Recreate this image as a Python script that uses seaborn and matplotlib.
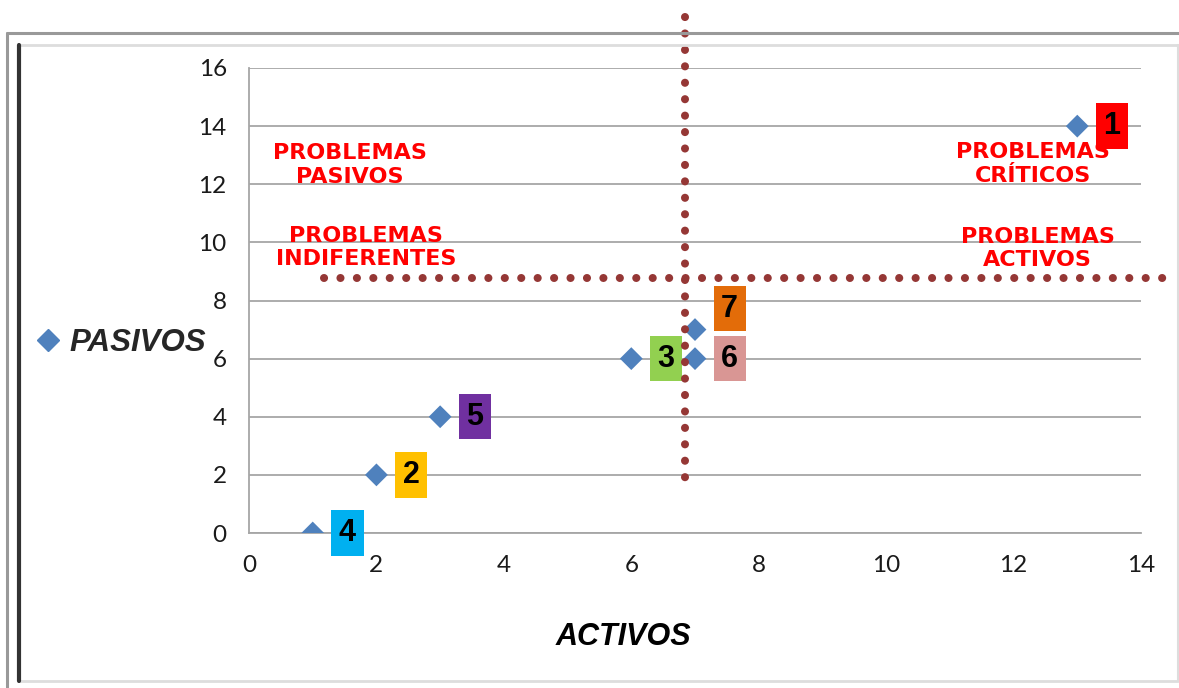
import numpy as np
import pandas as pd
import matplotlib
matplotlib.use("Agg")
import matplotlib.pyplot as plt
import seaborn as sns
from matplotlib.lines import Line2D

# ---- data ----
activos = [13, 2, 6, 1, 3, 7, 7]
pasivos = [14, 2, 6, 0, 4, 6, 7]
ids = ["1", "2", "3", "4", "5", "6", "7"]
box_colors = ["#FF0000", "#FFC000", "#92D050", "#00B0F0", "#7030A0", "#D99694", "#E36C09"]
x_ticks = [0, 2, 4, 6, 8, 10, 12, 14]
y_ticks = [0, 2, 4, 6, 8, 10, 12, 14, 16]
div_x = 6.84   # vertical divider (ACTIVOS)
div_y = 8.76   # horizontal divider (PASIVOS)
quadrant_texts = ["PROBLEMAS\nPASIVOS", "PROBLEMAS\nINDIFERENTES",
                  "PROBLEMAS\nCRÍTICOS", "PROBLEMAS\nACTIVOS"]
quadrant_x = [1.585, 1.84, 12.30, 12.38]
quadrant_y = [12.66, 9.81, 12.70, 9.79]

df = pd.DataFrame({"ACTIVOS": activos, "PASIVOS": pasivos, "id": ids})

sns.set_style("white")
plt.rcParams["font.family"] = ["Lato", "DejaVu Sans"]

W, H = 1179, 688
fig = plt.figure(figsize=(W / 100, H / 100), dpi=100)
ax = fig.add_axes([249 / W, 1 - 533 / H, (1141 - 249) / W, (533 - 68) / H])

sns.scatterplot(data=df, x="ACTIVOS", y="PASIVOS", marker="D", s=135,
                color="#4F81BD", edgecolor="none", ax=ax, zorder=4,
                label="PASIVOS", legend=False)

ax.set_xlim(0, 14)
ax.set_ylim(0, 16)
ax.set_xticks(x_ticks)
ax.set_yticks(y_ticks)
ax.yaxis.grid(True, color="#A6A6A6", lw=1.3)
ax.xaxis.grid(False)
for s in ["top", "right"]:
    ax.spines[s].set_visible(False)
for s in ["left", "bottom"]:
    ax.spines[s].set_color("#A6A6A6")
    ax.spines[s].set_linewidth(1.3)
ax.tick_params(axis="both", which="both", direction="out", length=6, width=1.3,
               color="#A6A6A6", labelsize=17.5, labelcolor="#1a1a1a")
ax.tick_params(axis="y", pad=10)
ax.tick_params(axis="x", pad=10)
ax.set_ylabel("")
ax.set_xlabel("ACTIVOS", fontsize=22, fontweight="bold", fontstyle="italic",
              family=["Liberation Sans"], color="black")
ax.xaxis.set_label_coords((623 - 249) / (1141 - 249), -(637 - 533) / (533 - 68))
ax.xaxis.label.set_va("center")

# quadrant labels
for t, qx, qy in zip(quadrant_texts, quadrant_x, quadrant_y):
    ax.text(qx, qy, t, ha="center", va="center", multialignment="center",
            color="#FF0000", fontsize=16, fontweight="heavy",
            family=["DejaVu Sans"], linespacing=1.2, zorder=3)

# numbered boxes
for a, p, lab, c in zip(activos, pasivos, ids, box_colors):
    dy = 15 if lab == "7" else 0
    ax.annotate(lab, (a, p), xytext=(25, dy), textcoords="offset points",
                ha="center", va="center", fontsize=22, fontweight="bold",
                family=["Liberation Sans"], color="black", zorder=5,
                bbox=dict(boxstyle="square,pad=0.25", fc=c, ec="none"),
                annotation_clip=False)

# dotted dividers
dot_kw = dict(color="#953735", lw=5.8, linestyle=(0, (0.01, 2.03)),
              dash_capstyle="round", clip_on=False, zorder=6)
ax.plot([div_x, div_x], [17.76, 1.48], **dot_kw)
ax.plot([1.18, 14.46], [div_y, div_y], **dot_kw)

# legend
handles = [Line2D([], [], marker="D", color="#4F81BD", ls="none", markersize=11)]
fig.legend(handles, ["PASIVOS"], loc="center left",
           bbox_to_anchor=(35 / W, 1 - 343 / H), frameon=False,
           prop=dict(family="Liberation Sans", weight="bold", style="italic", size=22.5),
           handlelength=0.8, handletextpad=0.3, borderpad=0, borderaxespad=0)

# frame
def fl(x0, y0, x1, y1, **kw):
    fig.add_artist(Line2D([x0 / W, x1 / W], [1 - y0 / H, 1 - y1 / H],
                          transform=fig.transFigure, **kw))

fl(7, 33, W, 33, color="#999999", lw=2.2)
fl(7, 33, 7, H, color="#999999", lw=2.2)
fl(19, 45, W, 45, color="#DDDDDD", lw=2)
fl(1178, 45, 1178, 681, color="#DDDDDD", lw=1.5)
fl(19, 681, 1178, 681, color="#DDDDDD", lw=2)
fl(19, 45, 19, 681, color="#333333", lw=3)

fig.savefig("out.png", dpi=100)
